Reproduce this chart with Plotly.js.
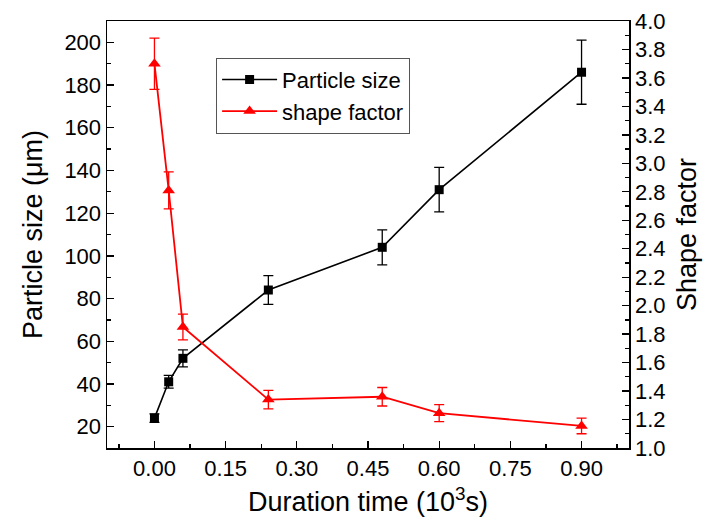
<!DOCTYPE html>
<html>
<head>
<meta charset="utf-8">
<script src="https://cdn.plot.ly/plotly-3.0.1.min.js"></script>
<style>html,body{margin:0;padding:0;background:#fff;}#chart{width:710px;height:527px;}</style>
</head>
<body>
<div id="chart"></div>
<script>
// Data
var durationTime = [0.00, 0.03, 0.06, 0.24, 0.48, 0.60, 0.90];
var particleSize = [24, 41, 52, 84, 104, 131, 186];
var particleSizeErr = [2, 3, 4, 6.7, 8.2, 10.4, 15];
var shapeFactor = [3.70, 2.81, 1.85, 1.34, 1.36, 1.245, 1.155];
var shapeFactorErr = [0.18, 0.13, 0.09, 0.065, 0.065, 0.06, 0.055];
var xTickVals = [0.00, 0.15, 0.30, 0.45, 0.60, 0.75, 0.90];
var seriesNames = ['Particle size', 'shape factor'];

var FONT = 'Liberation Sans, Arial, sans-serif';

var traces = [
  {
    x: durationTime, y: particleSize, name: seriesNames[0],
    type: 'scatter', mode: 'lines+markers',
    line: {color: '#000000', width: 1.6},
    marker: {symbol: 'square', size: 9, color: '#000000'},
    error_y: {type: 'data', array: particleSizeErr, visible: true, color: '#000000', thickness: 1.3, width: 5},
    yaxis: 'y'
  },
  {
    x: durationTime, y: shapeFactor, name: seriesNames[1],
    type: 'scatter', mode: 'lines+markers',
    line: {color: '#ff0000', width: 1.8},
    marker: {symbol: 'triangle-up', size: 11, color: '#ff0000'},
    error_y: {type: 'data', array: shapeFactorErr, visible: true, color: '#ff0000', thickness: 1.3, width: 5},
    yaxis: 'y2'
  }
];

var layout = {
  width: 710, height: 527,
  margin: {l: 107, r: 81, t: 21, b: 79},
  paper_bgcolor: '#ffffff', plot_bgcolor: '#ffffff',
  font: {family: FONT, color: '#000000', size: 22},
  showlegend: true,
  legend: {
    x: 0.209, y: 0.914, xanchor: 'left', yanchor: 'top',
    bordercolor: '#555555', borderwidth: 1, bgcolor: '#ffffff',
    font: {family: FONT, size: 22, color: '#000000'},
    itemwidth: 55,
    tracegroupgap: 0
  },
  xaxis: {
    range: [-0.1, 1.0],
    tickmode: 'array', tickvals: xTickVals, tickformat: '.2f',
    ticks: 'inside', ticklen: 7, tickwidth: 1.3, tickcolor: '#000',
    minor: {tickmode: 'linear', tick0: 0, dtick: 0.075, ticks: 'inside', ticklen: 4, tickwidth: 1.3, tickcolor: '#000'},
    showline: true, linecolor: '#000', linewidth: 1.5, mirror: true,
    showgrid: false, zeroline: false,
    tickfont: {family: FONT, size: 22},
    title: {text: 'Duration time (10<sup>3</sup>s)', font: {family: FONT, size: 27}, standoff: 12}
  },
  yaxis: {
    range: [10, 210],
    tick0: 20, dtick: 20,
    ticks: 'inside', ticklen: 7, tickwidth: 1.3, tickcolor: '#000',
    minor: {tick0: 10, dtick: 20, ticks: 'inside', ticklen: 4, tickwidth: 1.3, tickcolor: '#000'},
    showline: true, linecolor: '#000', linewidth: 1.5,
    showgrid: false, zeroline: false,
    tickfont: {family: FONT, size: 22},
    title: {text: 'Particle size (μm)', font: {family: FONT, size: 27}, standoff: 14}
  },
  yaxis2: {
    range: [1.0, 4.0],
    overlaying: 'y', side: 'right',
    tick0: 1.0, dtick: 0.2, tickformat: '.1f',
    ticks: 'inside', ticklen: 7, tickwidth: 1.3, tickcolor: '#000',
    minor: {tick0: 1.1, dtick: 0.2, ticks: 'inside', ticklen: 4, tickwidth: 1.3, tickcolor: '#000'},
    showline: true, linecolor: '#000', linewidth: 1.5,
    showgrid: false, zeroline: false,
    tickfont: {family: FONT, size: 22},
    title: {text: 'Shape factor', font: {family: FONT, size: 27}, standoff: 12}
  }
};

Plotly.newPlot('chart', traces, layout, {staticPlot: true, displayModeBar: false});
</script>
</body>
</html>
